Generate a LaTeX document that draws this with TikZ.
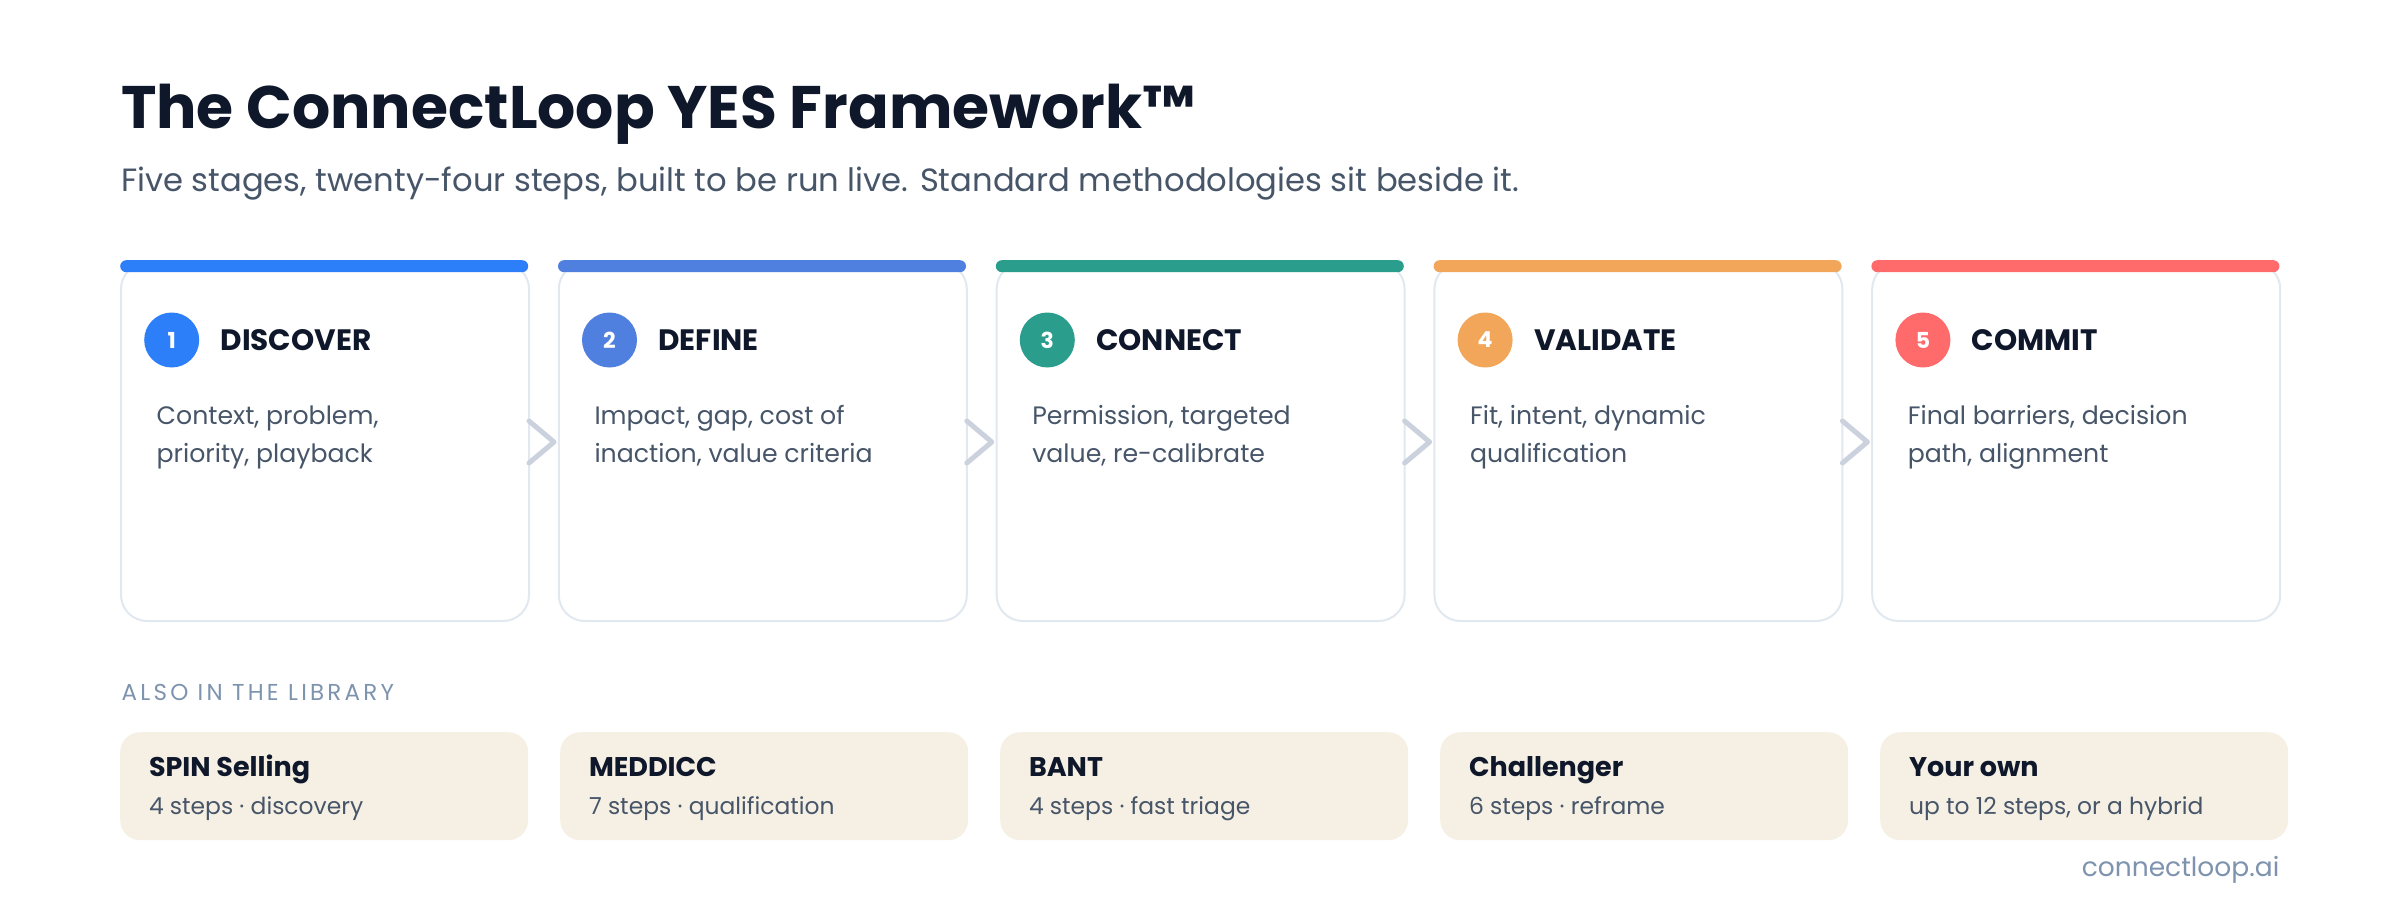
\documentclass[tikz,border=0pt]{standalone}
\usepackage{fontspec}
\setmainfont{Poppins}
\newfontfamily\spacedfont[LetterSpace=14]{Poppins}
\definecolor{titlecol}{HTML}{0F172A}
\definecolor{desccol}{HTML}{475569}
\definecolor{labelcol}{HTML}{7E93AE}
\definecolor{cardborder}{HTML}{E2E8F0}
\definecolor{chevcol}{HTML}{CBD2DD}
\definecolor{beige}{HTML}{F5F0E3}
\definecolor{cdiscover}{HTML}{2D7FF9}
\definecolor{cdefine}{HTML}{4F7FDF}
\definecolor{cconnect}{HTML}{2A9D8C}
\definecolor{cvalidate}{HTML}{F2A65A}
\definecolor{ccommit}{HTML}{FF6B6B}
\begin{document}
\begin{tikzpicture}[x=1pt,y=-1pt,
  txt/.style={anchor=base west, inner sep=0pt, outer sep=0pt},
  card/.style={draw=cardborder, line width=2pt, rounded corners=26pt, fill=white,
    minimum width=408pt, minimum height=358pt, anchor=north west, inner sep=0pt},
  topbar/.style={rounded corners=6pt, minimum width=408pt, minimum height=12pt,
    anchor=north west, inner sep=0pt},
  num/.style={circle, minimum size=55pt, inner sep=0pt, text=white,
    font=\fontsize{22}{22}\selectfont\bfseries},
  stagehead/.style={txt, text=titlecol, font=\fontsize{29.5}{31}\selectfont\bfseries},
  desc/.style={txt, text=desccol, font=\fontsize{25.2}{30}\selectfont},
  chev/.style={draw=chevcol, line width=5pt, line cap=round, line join=round},
  libcard/.style={fill=beige, rounded corners=20pt, minimum width=408pt,
    minimum height=108pt, anchor=north west, inner sep=0pt},
  libtitle/.style={txt, text=titlecol, font=\fontsize{27}{29}\selectfont\bfseries},
  libsub/.style={txt, text=desccol, font=\fontsize{23.4}{26}\selectfont}
]
\useasboundingbox[fill=white] (0,0) rectangle (2400,920);

\node[txt, text=titlecol, font=\fontsize{60}{68}\selectfont\bfseries] (title) at (121,129)
  {The ConnectLoop YES Framework™};
\node[txt, text=desccol, font=\fontsize{32.2}{35}\selectfont] (subtitle) at (121,191.5)
  {Five stages, twenty-four steps, built to be run live. Standard methodologies sit beside it.};

\foreach \i/\col/\head/\la/\lb in {
  1/cdiscover/DISCOVER/{Context, problem,}/{priority, playback},
  2/cdefine/DEFINE/{Impact, gap, cost of}/{inaction, value criteria},
  3/cconnect/CONNECT/{Permission, targeted}/{value, re-calibrate},
  4/cvalidate/VALIDATE/{Fit, intent, dynamic}/{qualification},
  5/ccommit/COMMIT/{Final barriers, decision}/{path, alignment}} {
  \pgfmathsetmacro\x{120+(\i-1)*437.8}
  \node[card] (c\i) at (\x,262) {};
  \node[topbar, fill=\col] (b\i) at (\x,260) {};
  \node[num, fill=\col] (n\i) at (\x+51.7,340) {\i};
  \node[stagehead] (h\i) at (\x+100.7,350) {\head};
  \node[desc] (da\i) at (\x+36.7,424) {\la};
  \node[desc] (db\i) at (\x+36.7,462) {\lb};
}

\foreach \i in {1,2,3,4} {
  \draw[chev] ([shift={(-1,-21)}]c\i.east) -- ([shift={(24,0)}]c\i.east) -- ([shift={(-1,21)}]c\i.east);
}

\node[txt, text=labelcol, font=\fontsize{23}{25}\spacedfont] (also) at (121.7,700)
  {ALSO IN THE LIBRARY};

\foreach \i/\t/\s in {
  1/{SPIN Selling}/{4 steps · discovery},
  2/{MEDDICC}/{7 steps · qualification},
  3/{BANT}/{4 steps · fast triage},
  4/{Challenger}/{6 steps · reframe},
  5/{Your own}/{up to 12 steps, or a hybrid}} {
  \pgfmathsetmacro\x{120+(\i-1)*440}
  \node[libcard] (l\i) at (\x,732) {};
  \node[libtitle] (lt\i) at (\x+29,776) {\t};
  \node[libsub] (ls\i) at (\x+29,814) {\s};
}

\node[anchor=base east, inner sep=0pt, text=labelcol, font=\fontsize{26.5}{28}\selectfont] (site)
  at (2279.5,876) {connectloop.ai};
\end{tikzpicture}
\end{document}
